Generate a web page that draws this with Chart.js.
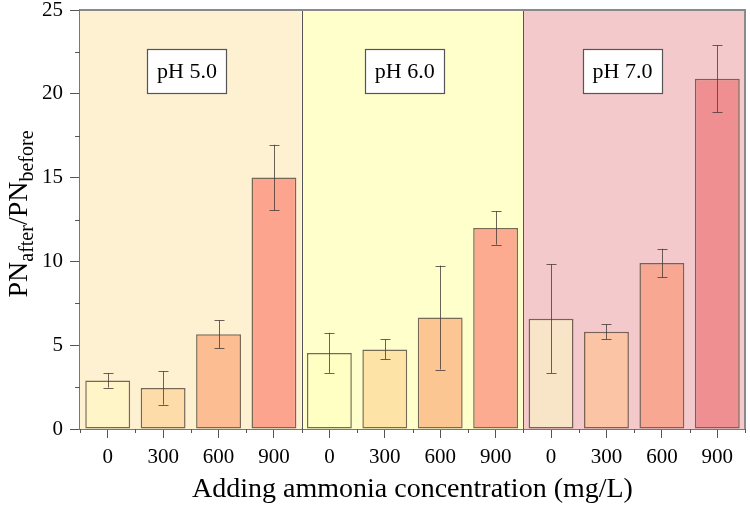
<!DOCTYPE html>
<html>
<head>
<meta charset="utf-8">
<script src="https://cdn.jsdelivr.net/npm/chart.js@4/dist/chart.umd.min.js"></script>
<style>
  html, body { margin: 0; padding: 0; background: #ffffff; }
  #wrap { width: 750px; height: 506px; }
</style>
</head>
<body>
<div id="wrap"><canvas id="c" width="750" height="506"></canvas></div>
<script>
// ---- data ----
const categories = ['0', '300', '600', '900', '0', '300', '600', '900', '0', '300', '600', '900'];
const groupNames = ['pH 5.0', 'pH 6.0', 'pH 7.0'];
const values = [2.9, 2.45, 5.65, 15.0, 4.54, 4.75, 6.65, 12.0, 6.58, 5.8, 9.9, 20.9];
const errors = [0.43, 1.0, 0.83, 1.96, 1.2, 0.6, 3.1, 1.0, 3.25, 0.45, 0.85, 2.0];
const yTicks = [0, 5, 10, 15, 20, 25];
const yMinorTicks = [2.5, 7.5, 12.5, 17.5, 22.5];

// ---- styles ----
const barColors = ['#fff5c6', '#fddcaa', '#fdbd92', '#fca48e',
                   '#ffffc4', '#fde4a6', '#fcc693', '#fcab90',
                   '#f8e4c6', '#fbc4a4', '#f8a892', '#f08f92'];
const groupBg = ['#fdf1d2', '#ffffcc', '#f4c9cc'];
const labelAnchorX = [1.43, 5.36, 9.29];
const labelAnchorY = 21.35;
const SERIF = "'Liberation Serif', 'Times New Roman', serif";

const decor = {
  id: 'decor',
  beforeDatasetsDraw(chart) {
    const ctx = chart.ctx, x = chart.scales.x, ca = chart.chartArea;
    const w = (ca.right - ca.left) / categories.length;
    ctx.save();
    for (let g = 0; g < groupBg.length; g++) {
      const l = x.getPixelForValue(g * 4) - w / 2;
      const r = x.getPixelForValue(g * 4 + 3) + w / 2;
      ctx.fillStyle = groupBg[g];
      ctx.fillRect(l, ca.top, r - l, ca.bottom - ca.top);
    }
    ctx.strokeStyle = '#555555';
    ctx.lineWidth = 1;
    for (let g = 1; g < groupBg.length; g++) {
      const bx = Math.round(x.getPixelForValue(g * 4) - w / 2) + 0.5;
      ctx.beginPath(); ctx.moveTo(bx, ca.top); ctx.lineTo(bx, ca.bottom); ctx.stroke();
    }
    ctx.restore();
  },
  afterDatasetsDraw(chart) {
    const ctx = chart.ctx, x = chart.scales.x, y = chart.scales.y, ca = chart.chartArea;
    const meta = chart.getDatasetMeta(0);
    ctx.save();
    // error bars
    ctx.strokeStyle = 'rgba(70,60,55,0.8)';
    ctx.lineWidth = 1;
    meta.data.forEach((bar, i) => {
      const cx = Math.round(bar.x) + 0.5;
      const yt = y.getPixelForValue(values[i] + errors[i]);
      const yb = y.getPixelForValue(values[i] - errors[i]);
      ctx.beginPath();
      ctx.moveTo(cx, yt); ctx.lineTo(cx, yb);
      ctx.moveTo(cx - 5, Math.round(yt) + 0.5); ctx.lineTo(cx + 5, Math.round(yt) + 0.5);
      ctx.moveTo(cx - 5, Math.round(yb) + 0.5); ctx.lineTo(cx + 5, Math.round(yb) + 0.5);
      ctx.stroke();
    });
    // frame top and right
    ctx.strokeStyle = '#8a8a8a';
    ctx.lineWidth = 2;
    ctx.beginPath();
    ctx.moveTo(ca.left, ca.top); ctx.lineTo(ca.right, ca.top); ctx.lineTo(ca.right, ca.bottom);
    ctx.stroke();
    // group labels
    ctx.font = '22px ' + SERIF;
    ctx.textAlign = 'center';
    ctx.textBaseline = 'middle';
    groupNames.forEach((name, g) => {
      const cx = x.getPixelForValue(labelAnchorX[g]);
      const cy = y.getPixelForValue(labelAnchorY);
      const bw = 79, bh = 44;
      ctx.fillStyle = '#ffffff';
      ctx.fillRect(cx - bw / 2, cy - bh / 2, bw, bh);
      ctx.strokeStyle = '#555555';
      ctx.lineWidth = 1.2;
      ctx.strokeRect(Math.round(cx - bw / 2) + 0.5, Math.round(cy - bh / 2) + 0.5, bw, bh);
      ctx.fillStyle = '#000000';
      ctx.fillText(name, cx, cy + 1);
    });
    ctx.restore();
  },
  afterDraw(chart) {
    const ctx = chart.ctx, x = chart.scales.x, y = chart.scales.y, ca = chart.chartArea;
    const w = (ca.right - ca.left) / categories.length;
    ctx.save();
    ctx.strokeStyle = '#555555';
    ctx.lineWidth = 1;
    // y minor ticks
    yMinorTicks.forEach(v => {
      const py = Math.round(y.getPixelForValue(v)) + 0.5;
      ctx.beginPath(); ctx.moveTo(ca.left - 5, py); ctx.lineTo(ca.left, py); ctx.stroke();
    });
    // x minor ticks at category boundaries
    for (let i = 0; i <= categories.length; i++) {
      const px = Math.round(x.getPixelForValue(i) - w / 2) + 0.5;
      ctx.beginPath(); ctx.moveTo(px, ca.bottom); ctx.lineTo(px, ca.bottom + 4); ctx.stroke();
    }
    // x title
    ctx.fillStyle = '#000000';
    ctx.font = '28px ' + SERIF;
    ctx.textAlign = 'center';
    ctx.textBaseline = 'alphabetic';
    ctx.fillText('Adding ammonia concentration (mg/L)', (ca.left + ca.right) / 2, 497);
    // y title with subscripts, rotated
    const parts = [
      { t: 'PN', f: '28px ' + SERIF, dy: 0 },
      { t: 'after', f: '20px ' + SERIF, dy: 6 },
      { t: '/PN', f: '28px ' + SERIF, dy: 0 },
      { t: 'before', f: '20px ' + SERIF, dy: 6 }
    ];
    let total = 0;
    parts.forEach(p => { ctx.font = p.f; p.w = ctx.measureText(p.t).width; total += p.w; });
    ctx.translate(27, 214);
    ctx.rotate(-Math.PI / 2);
    ctx.textAlign = 'left';
    let px = -total / 2;
    parts.forEach(p => {
      ctx.font = p.f;
      ctx.fillText(p.t, px, p.dy);
      px += p.w;
    });
    ctx.restore();
  }
};

new Chart(document.getElementById('c'), {
  type: 'bar',
  data: {
    labels: categories,
    datasets: [{
      data: values,
      backgroundColor: barColors,
      borderColor: 'rgba(95,80,65,0.85)',
      borderWidth: 1.5,
      borderSkipped: false,
      categoryPercentage: 1.0,
      barPercentage: 0.81
    }]
  },
  options: {
    responsive: false,
    animation: false,
    devicePixelRatio: 1,
    layout: { padding: { left: 0, right: 5, top: 10, bottom: 0 } },
    plugins: { legend: { display: false }, tooltip: { enabled: false }, title: { display: false } },
    scales: {
      x: {
        offset: true,
        grid: { display: true, drawOnChartArea: false, offset: false, tickLength: 9, color: '#555555', lineWidth: 1 },
        border: { display: true, color: '#777777', width: 2 },
        ticks: { color: '#000000', font: { family: SERIF, size: 21 }, padding: 7, maxRotation: 0, autoSkip: false },
        afterFit(s) { s.height = 77; s.paddingLeft = 0; s.paddingRight = 0; }
      },
      y: {
        min: 0, max: 25,
        afterBuildTicks(s) { s.ticks = yTicks.map(v => ({ value: v })); },
        grid: { display: true, drawOnChartArea: false, tickLength: 10, color: '#555555', lineWidth: 1 },
        border: { display: true, color: '#777777', width: 2 },
        ticks: { color: '#000000', font: { family: SERIF, size: 21 }, padding: 7 },
        afterFit(s) { s.width = 80; s.paddingTop = 0; s.paddingBottom = 0; }
      }
    }
  },
  plugins: [decor]
});
</script>
</body>
</html>
